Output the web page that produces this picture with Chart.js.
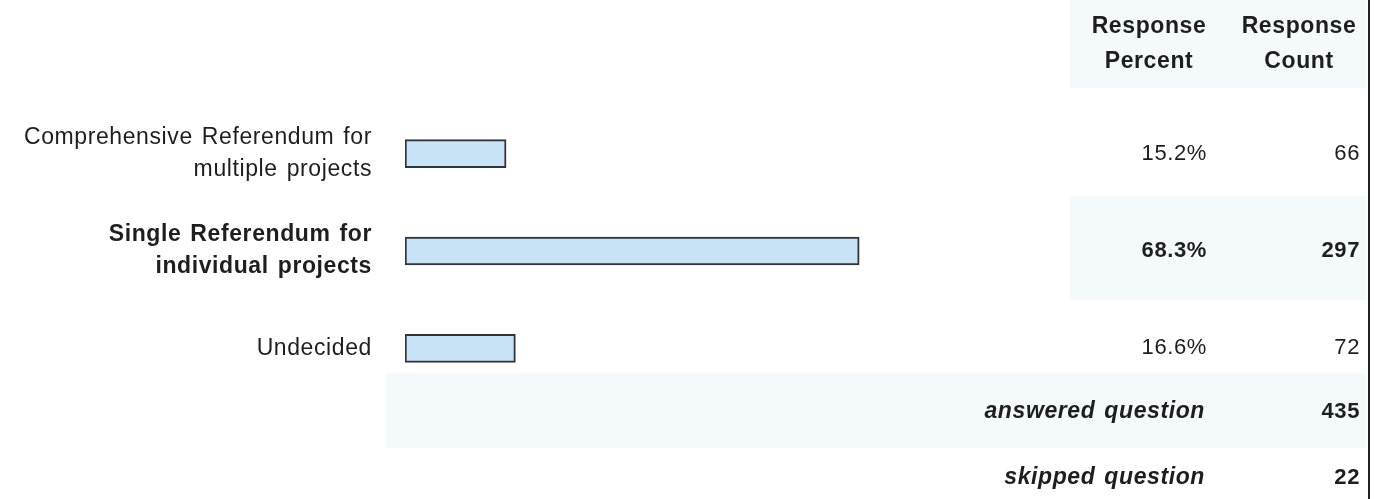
<!DOCTYPE html>
<html>
<head>
<meta charset="utf-8">
<script src="https://cdn.jsdelivr.net/npm/chart.js@4/dist/chart.umd.min.js"></script>
<style>
  html, body { margin: 0; padding: 0; background: #fff; }
  canvas { display: block; }
</style>
</head>
<body>
<canvas id="grafica" width="1380" height="499"></canvas>
<script>
const categorias = [
    ['Comprehensive Referendum for', 'multiple projects'],
    ['Single Referendum for', 'individual projects'],
    ['Undecided']
]
const porcentajes = [15.2, 68.3, 16.6]
const conteos = [66, 297, 72]
const encabezados = [['Response', 'Percent'], ['Response', 'Count']]
const respondidas = 435
const omitidas = 22

const fuente = 'Arial, "Liberation Sans", Helvetica, sans-serif'
const colorTexto = '#1e1e1e'
const filaResaltada = 1

// tabla de fondo, textos de columnas y borde derecho
const tablaPlugin = {
    id: 'tabla',
    beforeDraw(chart) {
        const ctx = chart.ctx
        ctx.letterSpacing = '0.6px'
        ctx.wordSpacing = '2px'
        ctx.save()
        ctx.fillStyle = '#f4f9fc'
        ctx.fillRect(1070, 0, 296, 88)
        ctx.fillRect(1070, 196, 296, 104)
        ctx.fillRect(386, 373, 980, 75)
        ctx.restore()
    },
    afterDraw(chart) {
        const ctx = chart.ctx
        const y = chart.scales.y
        ctx.save()
        ctx.fillStyle = colorTexto
        ctx.textBaseline = 'middle'

        ctx.textAlign = 'center'
        ctx.font = 'bold 23px ' + fuente
        encabezados.forEach((h, c) => {
            const cx = c === 0 ? 1149 : 1299
            ctx.fillText(h[0], cx, 27)
            ctx.fillText(h[1], cx, 62)
        })

        ctx.textAlign = 'right'
        for (let i = 0; i < porcentajes.length; i++) {
            const py = y.getPixelForValue(i)
            ctx.font = (i === filaResaltada ? 'bold ' : '') + '22px ' + fuente
            ctx.fillText(porcentajes[i].toFixed(1) + '%', 1207, py)
            ctx.fillText(String(conteos[i]), 1360, py)
        }

        ctx.font = 'italic bold 23px ' + fuente
        ctx.fillText('answered question', 1205, 412)
        ctx.fillText('skipped question', 1205, 478)
        ctx.font = 'bold 22px ' + fuente
        ctx.fillText(String(respondidas), 1360, 412)
        ctx.fillText(String(omitidas), 1360, 478)

        ctx.fillStyle = '#222'
        ctx.fillRect(1368, 0, 2, 499)
        ctx.restore()
    }
}

const configR = {
    type: 'bar',
    data: {
        labels: categorias,
        datasets: [{
            label: 'Response Percent',
            data: porcentajes,
            backgroundColor: 'rgb(200, 226, 246)',
            borderColor: '#33333b',
            borderWidth: 2,
            borderSkipped: false,
            barThickness: 28
        }]
    },
    options: {
        indexAxis: 'y',
        responsive: false,
        animation: false,
        devicePixelRatio: 1,
        layout: { padding: { top: 105, bottom: 102, left: 0, right: 310 } },
        plugins: {
            legend: { display: false },
            tooltip: { enabled: false }
        },
        scales: {
            x: { type: 'linear', min: 0, max: 100, display: false },
            y: {
                offset: true,
                grid: { display: false, drawTicks: false },
                border: { display: false },
                afterFit: s => { s.width = 405 },
                ticks: {
                    padding: 33,
                    color: colorTexto,
                    font: c => ({
                        family: fuente,
                        size: 23,
                        weight: c.index === filaResaltada ? 'bold' : 'normal',
                        lineHeight: 1.4
                    })
                }
            }
        }
    },
    plugins: [tablaPlugin]
}

let myChart = new Chart(document.getElementById('grafica'), configR)
</script>
</body>
</html>
